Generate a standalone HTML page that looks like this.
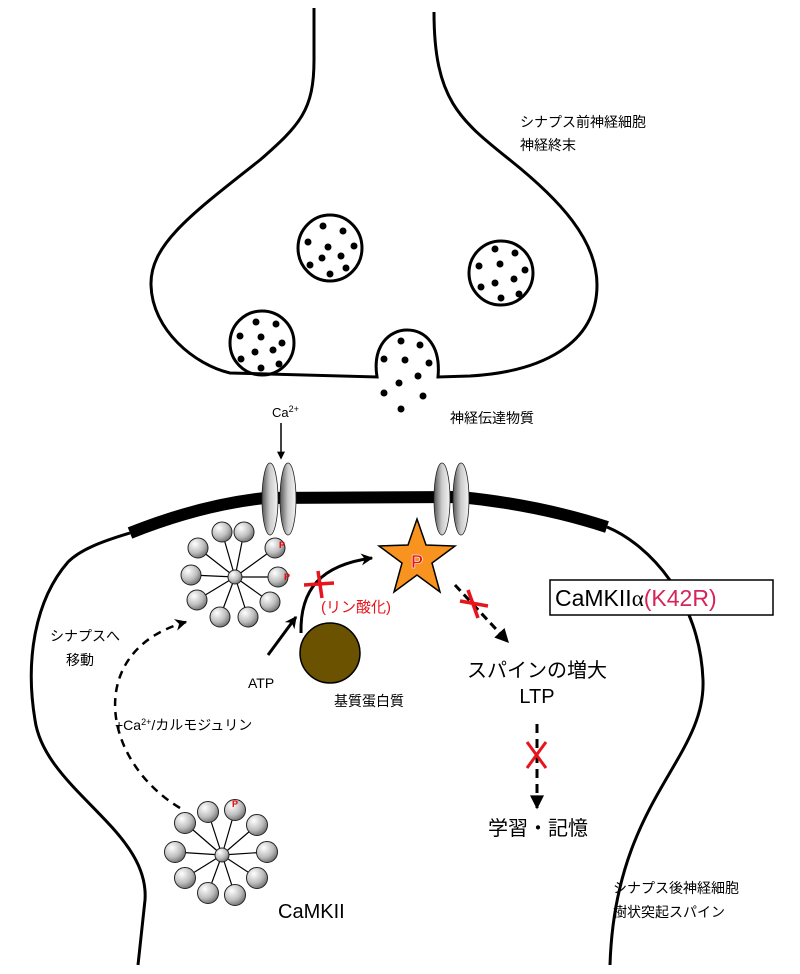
<!DOCTYPE html>
<html><head><meta charset="utf-8"><style>
html,body{margin:0;padding:0;background:#fff;}
svg{display:block;}
text{font-family:"Liberation Sans","Noto Sans CJK JP",sans-serif;}
</style></head><body>
<svg width="800" height="974" viewBox="0 0 800 974" xmlns="http://www.w3.org/2000/svg">
<defs>
<radialGradient id="ball" cx="0.35" cy="0.3" r="0.75">
<stop offset="0" stop-color="#ffffff"/><stop offset="0.6" stop-color="#bdbdbd"/><stop offset="1" stop-color="#6d6d6d"/>
</radialGradient>
<linearGradient id="chan" x1="0" x2="1" y1="0" y2="0">
<stop offset="0" stop-color="#555"/><stop offset="0.5" stop-color="#ccc"/><stop offset="1" stop-color="#f4f4f4"/>
</linearGradient>
<marker id="ah" viewBox="0 0 10 10" refX="8" refY="5" markerWidth="8" markerHeight="8" orient="auto" markerUnits="userSpaceOnUse">
<path d="M0,0 L10,5 L0,10 z" fill="#000"/></marker>
<marker id="big" viewBox="0 0 10 10" refX="9" refY="5" markerWidth="16" markerHeight="14" orient="auto" markerUnits="userSpaceOnUse">
<path d="M0,0 L10,5 L0,10 z" fill="#000"/></marker>
<marker id="mid" viewBox="0 0 10 10" refX="9" refY="5" markerWidth="14" markerHeight="12" orient="auto" markerUnits="userSpaceOnUse">
<path d="M0,0 L10,5 L0,10 L3,5 z" fill="#000"/></marker>
</defs>
<g fill="none" stroke="#000" stroke-width="3">
<path d="M314,8 L314,60 C314,110 300,125 260,160 C190,215 150,245 151,285 C152,330 195,365 230,373 L377,377 C372,345 390,330 407,330 C425,330 441,345 438,377 L470,376 C540,372 597,345 597,285 C597,240 560,200 510,160 C460,120 434,100 434,12"/>
<ellipse cx="330" cy="248" rx="32" ry="33"/>
<ellipse cx="501" cy="273" rx="32" ry="32"/>
<ellipse cx="262" cy="343" rx="32" ry="32"/>
<path d="M130,533 C100,542 80,550 68,562 C35,600 25,660 35,720 C45,790 150,830 145,900 L138,965"/>
<path d="M607,527 C650,545 700,600 703,680 C706,760 615,800 610,965"/>
</g>
<path d="M130,533 Q200,505 265,498 L460,497 Q540,505 607,527" fill="none" stroke="#000" stroke-width="12"/>
<g fill="#000">
<circle cx="323" cy="226" r="3.5"/><circle cx="343" cy="231" r="3.5"/><circle cx="308" cy="242" r="3.5"/><circle cx="328" cy="247" r="3.5"/><circle cx="354" cy="246" r="3.5"/><circle cx="341" cy="256" r="3.5"/><circle cx="322" cy="258" r="3.5"/><circle cx="310" cy="265" r="3.5"/><circle cx="346" cy="268" r="3.5"/><circle cx="330" cy="274" r="3.5"/>
<circle cx="495" cy="249" r="3.5"/><circle cx="515" cy="253" r="3.5"/><circle cx="479" cy="266" r="3.5"/><circle cx="500" cy="264" r="3.5"/><circle cx="525" cy="270" r="3.5"/><circle cx="514" cy="279" r="3.5"/><circle cx="495" cy="283" r="3.5"/><circle cx="481" cy="287" r="3.5"/><circle cx="519" cy="294" r="3.5"/><circle cx="501" cy="298" r="3.5"/>
<circle cx="256" cy="322" r="3.5"/><circle cx="276" cy="324" r="3.5"/><circle cx="240" cy="336" r="3.5"/><circle cx="261" cy="337" r="3.5"/><circle cx="282" cy="343" r="3.5"/><circle cx="273" cy="350" r="3.5"/><circle cx="255" cy="352" r="3.5"/><circle cx="241" cy="359" r="3.5"/><circle cx="279" cy="364" r="3.5"/><circle cx="261" cy="368" r="3.5"/>
<circle cx="401" cy="341" r="3.5"/><circle cx="420" cy="345" r="3.5"/><circle cx="384" cy="359" r="3.5"/><circle cx="405" cy="360" r="3.5"/><circle cx="429" cy="363" r="3.5"/><circle cx="418" cy="376" r="3.5"/><circle cx="399" cy="383" r="3.5"/><circle cx="384" cy="393" r="3.5"/><circle cx="423" cy="396" r="3.5"/><circle cx="401" cy="409" r="3.5"/>
</g>
<text x="520" y="127" font-size="14">シナプス前神経細胞</text>
<text x="520" y="150" font-size="14">神経終末</text>
<text x="450" y="423" font-size="14">神経伝達物質</text>
<text x="272" y="417" font-size="13">Ca<tspan font-size="9" dy="-5">2+</tspan></text>
<line x1="281" y1="423" x2="281" y2="458" stroke="#000" stroke-width="1.5" marker-end="url(#ah)"/>
<g stroke="#222" stroke-width="0.8" fill="url(#chan)">
<ellipse cx="270" cy="499" rx="8" ry="36"/><ellipse cx="288" cy="499" rx="8" ry="36"/>
<ellipse cx="442" cy="499" rx="8" ry="36"/><ellipse cx="461" cy="499" rx="8" ry="36"/>
</g>
<g stroke="#000" stroke-width="1.2">
<line x1="235" y1="577" x2="222" y2="532"/><line x1="235" y1="577" x2="244" y2="532"/><line x1="235" y1="577" x2="275" y2="548"/><line x1="235" y1="577" x2="191" y2="575"/><line x1="235" y1="577" x2="278" y2="577"/><line x1="235" y1="577" x2="197" y2="600"/><line x1="235" y1="577" x2="270" y2="602"/><line x1="235" y1="577" x2="220" y2="617"/><line x1="235" y1="577" x2="248" y2="617"/><line x1="235" y1="577" x2="198" y2="548"/>
</g>
<g stroke="#222" stroke-width="1" fill="url(#ball)">
<circle cx="222" cy="532" r="10"/><circle cx="244" cy="532" r="10"/><circle cx="275" cy="548" r="10"/><circle cx="191" cy="575" r="10"/><circle cx="278" cy="577" r="10"/><circle cx="197" cy="600" r="10"/><circle cx="270" cy="602" r="10"/><circle cx="220" cy="617" r="10"/><circle cx="248" cy="617" r="10"/><circle cx="198" cy="548" r="10"/>
<circle cx="235" cy="577" r="7"/>
</g>
<text x="279" y="548" font-size="9" fill="#e00" font-weight="bold">P</text>
<text x="284" y="580" font-size="9" fill="#e00" font-weight="bold">P</text>
<g stroke="#000" stroke-width="1.2">
<line x1="222" y1="855" x2="208" y2="812"/><line x1="222" y1="855" x2="235" y2="810"/><line x1="222" y1="855" x2="185" y2="823"/><line x1="222" y1="855" x2="257" y2="825"/><line x1="222" y1="855" x2="175" y2="852"/><line x1="222" y1="855" x2="267" y2="852"/><line x1="222" y1="855" x2="185" y2="878"/><line x1="222" y1="855" x2="257" y2="878"/><line x1="222" y1="855" x2="208" y2="893"/><line x1="222" y1="855" x2="235" y2="895"/>
</g>
<g stroke="#222" stroke-width="1" fill="url(#ball)">
<circle cx="208" cy="812" r="10.5"/><circle cx="235" cy="810" r="10.5"/><circle cx="185" cy="823" r="10.5"/><circle cx="257" cy="825" r="10.5"/><circle cx="175" cy="852" r="10.5"/><circle cx="267" cy="852" r="10.5"/><circle cx="185" cy="878" r="10.5"/><circle cx="257" cy="878" r="10.5"/><circle cx="208" cy="893" r="10.5"/><circle cx="235" cy="895" r="10.5"/>
<circle cx="222" cy="855" r="7"/>
</g>
<text x="232" y="807" font-size="9" fill="#e00" font-weight="bold">P</text>
<text x="278" y="918" font-size="20">CaMKII</text>
<polygon points="417,519 426,545 455,546 432,563 440,592 417,575 394,592 402,563 379,546 408,545" fill="#f7931e" stroke="#000" stroke-width="1.5"/>
<text x="417" y="568" font-size="18" font-weight="bold" fill="#e8141c" stroke="#fff" stroke-width="0.6" text-anchor="middle">P</text>
<path d="M301,633 C300,590 320,565 372,558" fill="none" stroke="#000" stroke-width="3" marker-end="url(#mid)"/>
<line x1="268" y1="655" x2="296" y2="617" stroke="#000" stroke-width="3" marker-end="url(#mid)"/>
<g stroke="#e8141c" stroke-width="3.5"><line x1="304" y1="585" x2="334" y2="583"/><line x1="318" y1="571" x2="322" y2="598"/></g>
<text x="321" y="612" font-size="15" fill="#e8141c">(リン酸化)</text>
<text x="248" y="688" font-size="14">ATP</text>
<circle cx="330" cy="653" r="30" fill="#6b5200" stroke="#000" stroke-width="1.5"/>
<text x="334" y="706" font-size="14">基質蛋白質</text>
<line x1="455" y1="585" x2="508" y2="642" stroke="#000" stroke-width="3" stroke-dasharray="8,5" marker-end="url(#big)"/>
<g stroke="#e8141c" stroke-width="3.5"><line x1="460" y1="601" x2="488" y2="606"/><line x1="468" y1="590" x2="478" y2="618"/></g>
<text x="537" y="677" font-size="20" text-anchor="middle">スパインの増大</text>
<text x="537" y="703" font-size="20" text-anchor="middle">LTP</text>
<line x1="537" y1="724" x2="537" y2="808" stroke="#000" stroke-width="3" stroke-dasharray="9,6" marker-end="url(#big)"/>
<g stroke="#e8141c" stroke-width="3"><line x1="527" y1="742" x2="546" y2="768"/><line x1="546" y1="742" x2="527" y2="768"/></g>
<text x="538" y="835" font-size="20" text-anchor="middle">学習・記憶</text>
<rect x="550" y="580" width="223" height="35" fill="#fff" stroke="#000" stroke-width="1.5"/>
<text x="555" y="606" font-size="23">CaMKII<tspan font-family="'Liberation Serif',serif">α</tspan><tspan fill="#d6245a">(K42R)</tspan></text>
<text x="50" y="641" font-size="14">シナプスへ</text>
<text x="66" y="665" font-size="14">移動</text>
<text x="115" y="730" font-size="14">+Ca<tspan font-size="9" dy="-5">2+</tspan><tspan dy="5">/カルモジュリン</tspan></text>
<path d="M180,808 C100,760 85,650 186,622" fill="none" stroke="#000" stroke-width="2.5" stroke-dasharray="8,6" marker-end="url(#mid)"/>
<text x="613" y="893" font-size="14">シナプス後神経細胞</text>
<text x="613" y="917" font-size="14">樹状突起スパイン</text>
</svg>
</body></html>
